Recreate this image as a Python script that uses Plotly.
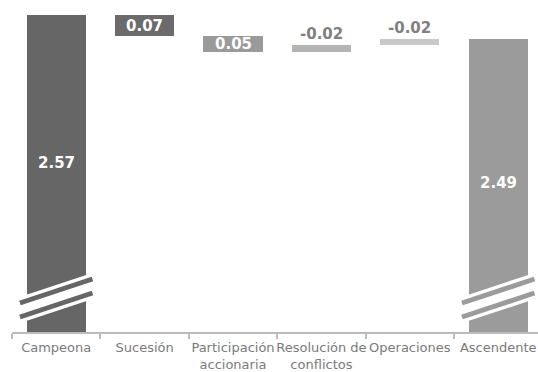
import plotly.graph_objects as go

# Bridge from "Campeona" to "Ascendente": each effect lowers the level by its value
categories = ["Campeona", "Sucesión", "Participación<br>accionaria",
              "Resolución de<br>conflictos", "Operaciones", "Ascendente"]
start_value = 2.57
effects = [0.07, 0.05, -0.02, -0.02]
end_value = 2.49
bar_colors = ["#666666", "#6b6b6b", "#9a9a9a", "#b4b4b4", "#c8c8c8", "#9b9b9b"]

# Build bar bases / heights for the floating steps
bases, heights, tops = [0], [start_value], [start_value]
level = start_value
for e in effects:
    new_level = level - e
    lo, hi = min(level, new_level), max(level, new_level)
    bases.append(lo)
    heights.append(hi - lo)
    tops.append(hi)
    level = new_level
bases.append(0)
heights.append(end_value)
tops.append(end_value)

Y_MIN, Y_MAX = 1.531, 2.619   # broken axis: bars of totals are cut below
PX_PER_UNIT = 332 / (Y_MAX - Y_MIN)

fig = go.Figure(go.Bar(
    x=categories, y=heights, base=bases,
    marker=dict(color=bar_colors, line=dict(width=0)),
    width=0.67, hoverinfo="skip",
))

annotations = []
label_font = dict(family="DejaVu Sans", size=15, color="white")
# totals: white labels inside the bars
for i, v, shift in [(0, start_value, 10), (len(categories) - 1, end_value, 3)]:
    annotations.append(dict(x=i, y=(v + Y_MIN) / 2, text=f"<b>{v:.2f}</b>",
                            showarrow=False, font=label_font, yshift=shift))
# effects
for k, e in enumerate(effects):
    i = k + 1
    if e > 0:
        annotations.append(dict(x=i, y=bases[i] + heights[i] / 2, text=f"<b>{e:.2f}</b>",
                                showarrow=False, font=label_font))
    else:
        annotations.append(dict(x=i, y=tops[i], text=f"<b>{e:.2f}</b>", yanchor="bottom",
                                showarrow=False, yshift=0,
                                font=dict(family="DejaVu Sans", size=15, color="#808080")))

# axis-break slashes across the two total bars
def px(v):
    return Y_MIN + v / PX_PER_UNIT

shapes = []
for i in (0, len(categories) - 1):
    c = bar_colors[i]
    x0, x1 = i - 0.41, i + 0.41
    shapes.append(dict(type="line", xref="x", yref="y", x0=x0, x1=x1, y0=px(22), y1=px(46),
                       line=dict(color="white", width=25)))
    for off in (0, 14):
        shapes.append(dict(type="line", xref="x", yref="y", x0=x0, x1=x1,
                           y0=px(15 + off), y1=px(39 + off), line=dict(color=c, width=5)))

fig.update_layout(
    width=538, height=372,
    margin=dict(l=12, r=0, t=0, b=40),
    paper_bgcolor="white", plot_bgcolor="white",
    showlegend=False, bargap=0,
    annotations=annotations, shapes=shapes,
    xaxis=dict(
        type="category", categoryorder="array", categoryarray=categories,
        range=[-0.5, 5.45], showline=True, linecolor="#bbbbbb", linewidth=2,
        ticks="outside", ticklen=5, tickcolor="#bbbbbb", tickwidth=2,
        tickson="boundaries", tickangle=0, automargin=False, ticklabelstandoff=2,
        tickfont=dict(family="DejaVu Sans", size=13, color="#7a7a7a"),
        showgrid=False, zeroline=False, fixedrange=True,
    ),
    yaxis=dict(range=[Y_MIN, Y_MAX], visible=False, showgrid=False, zeroline=False),
)

fig.write_html("out.html")
